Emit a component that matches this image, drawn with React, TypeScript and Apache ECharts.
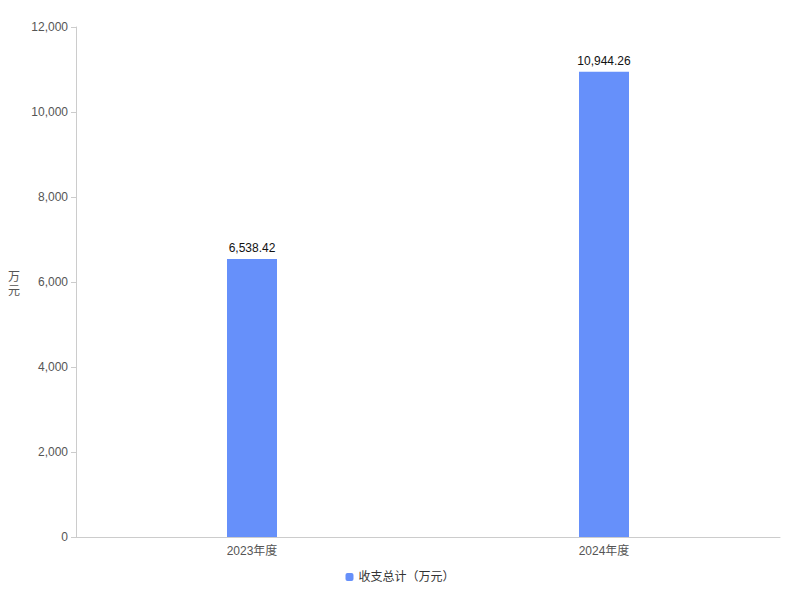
import React, { useEffect, useRef } from "react";
import * as echarts from "echarts";

const categories = ["2023年度", "2024年度"];
const seriesName = "收支总计（万元）";
const values = [6538.42, 10944.26];
const yAxisName = "万\n元";

export default function App() {
  const ref = useRef<HTMLDivElement>(null);
  useEffect(() => {
    if (!ref.current) return;
    const chart = echarts.init(ref.current, undefined, { renderer: "svg" });
    chart.setOption({
      animation: false,
      textStyle: { fontFamily: "Arial, Liberation Sans, Noto Sans CJK SC, sans-serif" },
      grid: { left: 76, right: 20, top: 27, bottom: 63 },
      legend: {
        bottom: 12,
        left: "center",
        icon: "roundRect",
        itemWidth: 8,
        itemHeight: 8,
        textStyle: { color: "#333", fontSize: 12 },
        data: [seriesName],
      },
      xAxis: {
        type: "category",
        data: categories,
        axisLine: { lineStyle: { color: "#ccc" } },
        axisTick: { alignWithLabel: true, lineStyle: { color: "#ccc" } },
        axisLabel: { color: "#555", fontSize: 12, margin: 8 },
      },
      yAxis: {
        type: "value",
        min: 0,
        max: 12000,
        interval: 2000,
        name: yAxisName,
        nameLocation: "middle",
        nameGap: 56,
        nameRotate: 0,
        nameTextStyle: { color: "#555", fontSize: 12, lineHeight: 14, fontFamily: "Noto Sans CJK SC, sans-serif" },
        axisLine: { show: true, lineStyle: { color: "#ccc" } },
        axisTick: { show: true, lineStyle: { color: "#ccc" } },
        splitLine: { show: false },
        axisLabel: {
          color: "#555",
          fontSize: 12,
          formatter: (v: number) => v.toLocaleString("en-US"),
        },
      },
      series: [
        {
          name: seriesName,
          type: "bar",
          data: values,
          barWidth: 50,
          itemStyle: { color: "#6690fa" },
          label: {
            show: true,
            position: "top",
            color: "#111",
            fontSize: 12,
            formatter: (p: any) =>
              p.value.toLocaleString("en-US", { minimumFractionDigits: 2, maximumFractionDigits: 2 }),
          },
        },
      ],
    });
    return () => chart.dispose();
  }, []);
  return <div ref={ref} style={{ width: 800, height: 600, margin: -8 }} />;
}
